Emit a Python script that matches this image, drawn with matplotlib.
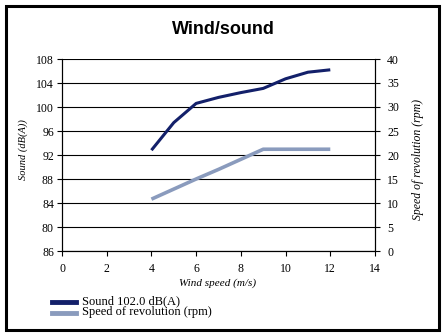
import matplotlib

matplotlib.use("Agg")

import matplotlib.pyplot as plt
from matplotlib.patches import Rectangle

# data
wind_speed = [4, 5, 6, 7, 8, 9, 10, 11, 12]
sound_db = [92.8, 97.4, 100.6, 101.6, 102.4, 103.1, 104.7, 105.8, 106.2]
revolution_rpm = [10.8, 12.9, 15.0, 17.0, 19.1, 21.2, 21.2, 21.2, 21.2]

sound_ticks = [76, 80, 84, 88, 92, 96, 100, 104, 108]
sound_tick_labels = ["86", "80", "84", "88", "92", "96", "100", "104", "108"]
rpm_ticks = [0, 5, 10, 15, 20, 25, 30, 35, 40]
x_ticks = [0, 2, 4, 6, 8, 10, 12, 14]

SOUND_COLOR = "#13206a"
RPM_COLOR = "#8a9bbd"
SERIF = "Liberation Serif"
W, H = 447, 336

fig = plt.figure(figsize=(4.47, 3.36), dpi=100)
ax = fig.add_axes([62 / W, 1 - 251 / H, 313 / W, 192 / H])
ax2 = ax.twinx()

ax.plot(wind_speed, sound_db, color=SOUND_COLOR, lw=2.2, solid_capstyle="butt")
ax2.plot(wind_speed, revolution_rpm, color=RPM_COLOR, lw=2.6, solid_capstyle="butt")

ax.set_xlim(0, 14)
ax.set_ylim(76, 108)
ax2.set_ylim(0, 40)
ax.set_xticks(x_ticks)
ax.set_yticks(sound_ticks)
ax.set_yticklabels(sound_tick_labels)
ax2.set_yticks(rpm_ticks)

ax.grid(axis="y", color="black", lw=0.8)
for a in (ax, ax2):
    a.set_facecolor("none")
    for s in a.spines.values():
        s.set_linewidth(0.8)
    a.spines["top"].set_visible(False)
    a.tick_params(length=3.8, width=0.8, labelsize=8.5)
    for lab in a.get_xticklabels() + a.get_yticklabels():
        lab.set_family(SERIF)
ax.tick_params(axis="x", pad=4.5)
ax.tick_params(axis="y", pad=2)
ax2.tick_params(axis="y", pad=5)

# axis titles placed where the reference has them
fig.text(218 / W, 1 - 283 / H, "Wind speed (m/s)", ha="center", va="center",
         family=SERIF, style="italic", fontsize=8)
fig.text(23 / W, 1 - 150 / H, "Sound (dB(A))", ha="center", va="center",
         rotation=90, family=SERIF, style="italic", fontsize=7.5)
fig.text(418 / W, 1 - 160 / H, "Speed of revolution (rpm)", ha="center", va="center",
         rotation=90, family=SERIF, style="italic", fontsize=8.5)

fig.text(0.5, 1 - 30 / H, "Wind/sound", ha="center", va="center",
         family="Liberation Sans", weight="bold", fontsize=13)

# legend below the chart
legend_items = [("Sound 102.0 dB(A)", SOUND_COLOR), ("Speed of revolution (rpm)", RPM_COLOR)]
for i, (label, color) in enumerate(legend_items):
    y = 1 - (301.5 + 11 * i) / H
    fig.add_artist(plt.Line2D([52 / W, 76 / W], [y, y], color=color, lw=3.5,
                              transform=fig.transFigure))
    fig.text(82 / W, y, label, va="center", family=SERIF, fontsize=9)

fig.add_artist(Rectangle((6 / W, 1 - 330 / H), 433 / W, 324 / H,
                         transform=fig.transFigure, fill=False, lw=2.2, ec="black"))

fig.savefig("out.png", dpi=100)
